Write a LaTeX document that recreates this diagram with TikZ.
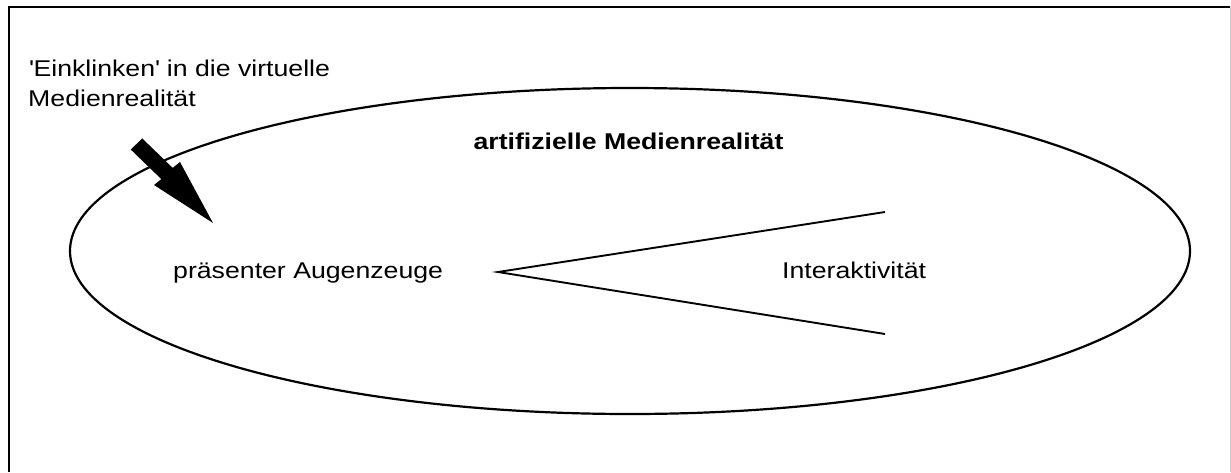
\documentclass[tikz,border=0pt]{standalone}
\usepackage{fontspec}
\setmainfont[FakeStretch=1.17]{Liberation Sans}
\begin{document}
\begin{tikzpicture}[x=1pt,y=-1pt,
  lbl/.style={inner sep=0pt, anchor=base west, font=\fontsize{22.8}{30}\selectfont},
  conn/.style={line width=1.9pt}]
\useasboundingbox (0,0) rectangle (1231,472);
% frame
\draw[line width=2pt] (9,472) -- (9,7) -- (1230,7);
\draw[gray!40, line width=1pt] (1230,7) -- (1230,472);
% ellipse
\draw[line width=2.2pt] (630,251) ellipse [x radius=560, y radius=163];
% texts
\node[lbl] (einkl) at (29,76) {\textquotesingle Einklinken\textquotesingle{} in die virtuelle};
\node[lbl] (einkl2) at (28,106) {Medienrealität};
\node[lbl, anchor=base, font=\fontsize{22.8}{30}\selectfont\bfseries] (title) at (628.5,149) {artifizielle Medienrealität};
\node[lbl] (aug) at (173,278) {präsenter Augenzeuge};
\node[lbl] (inter) at (782,278) {Interaktivität};
% lines
\coordinate (apex) at (498,272);
\coordinate (up) at (885,212);
\coordinate (low) at (885,334);
\draw[conn] (up) -- (apex) -- (low);
% arrow
\coordinate (a1) at (130.8,149.6);
\coordinate (a2) at (142.2,138.4);
\coordinate (b2) at (172.7,167.9);
\coordinate (b1) at (161.3,179.1);
\coordinate (h1) at (154,185);
\coordinate (h2) at (180,162);
\coordinate (tip) at (213,223);
\fill (a1) -- (a2) -- (b2) -- (h2) -- (tip) -- (h1) -- (b1) -- cycle;
\end{tikzpicture}
\end{document}
